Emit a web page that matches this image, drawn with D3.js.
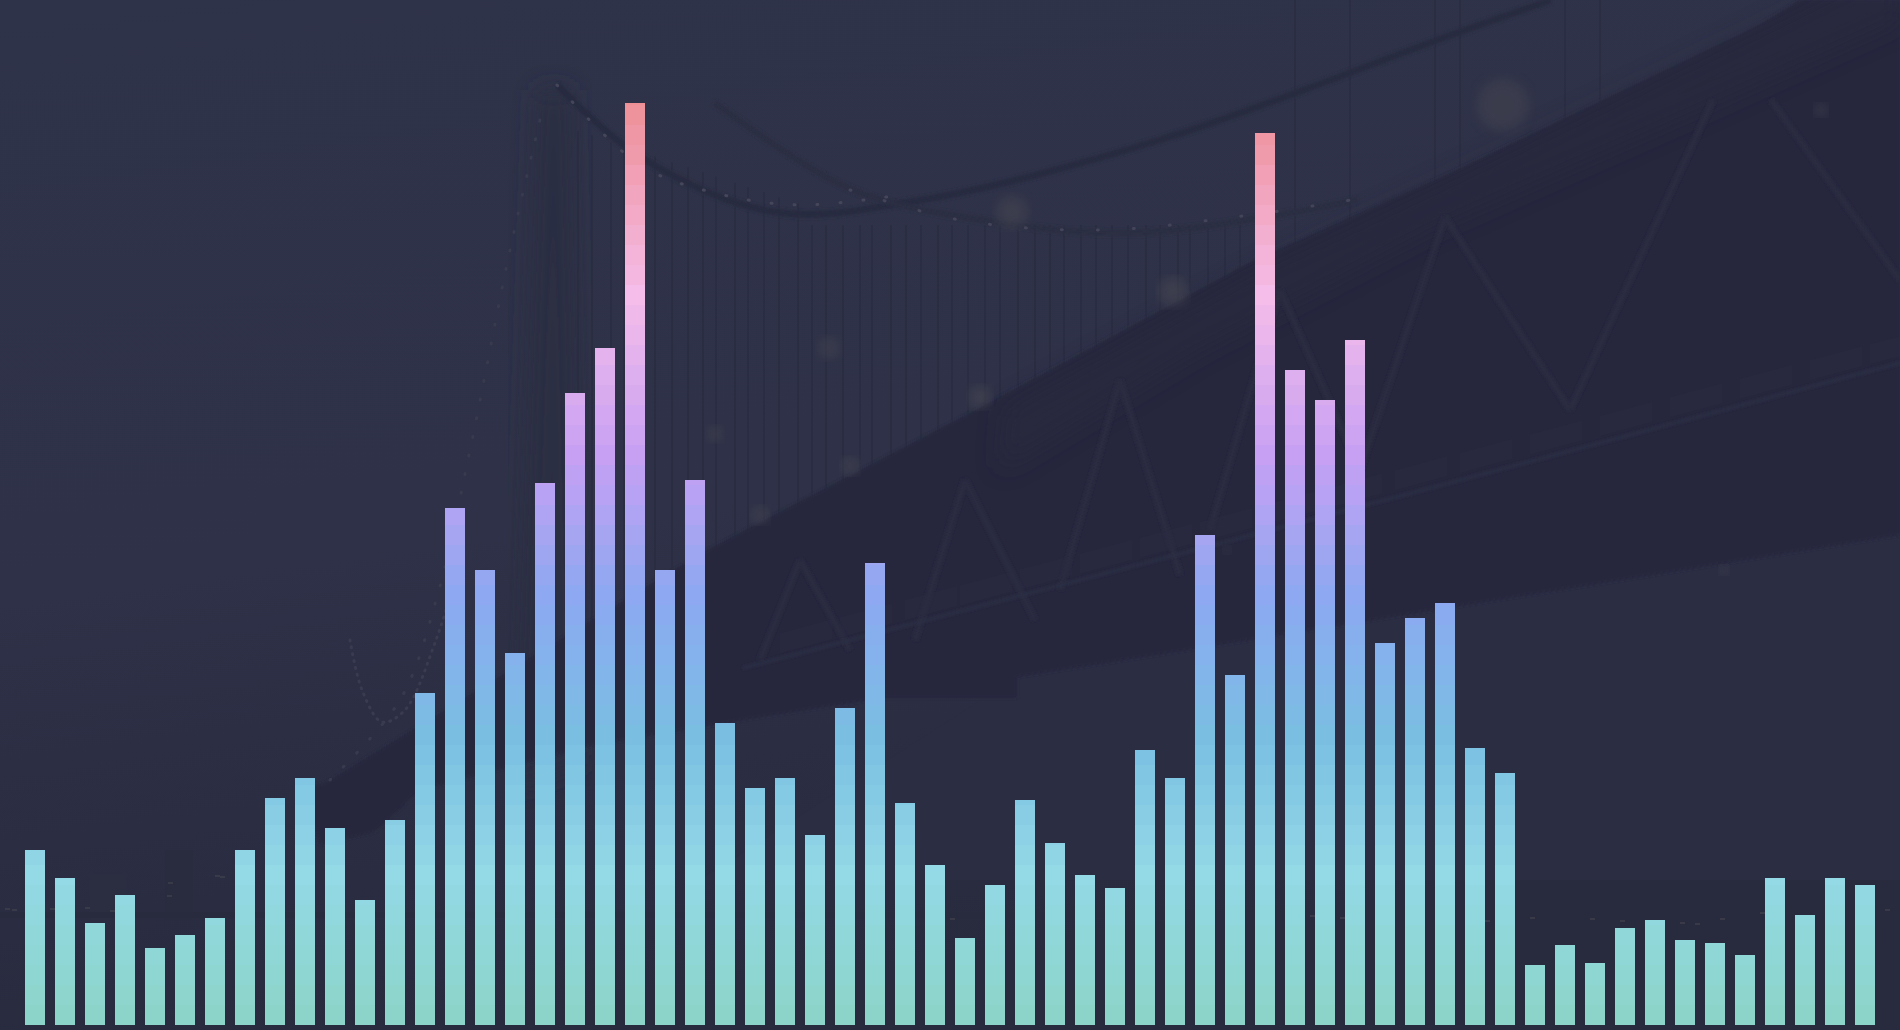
<!DOCTYPE html>
<html>
<head>
<meta charset="utf-8">
<title>Bars over bridge</title>
<script src="https://cdn.jsdelivr.net/npm/d3@7"></script>
<style>
  html, body { margin: 0; padding: 0; background: #2b2e44; overflow: hidden; }
  svg { display: block; }
</style>
</head>
<body>
<div id="chart"></div>
<script>
// bar heights
var values = [175, 147, 102, 130, 77, 90, 107, 175, 227, 247, 197, 125, 205, 332, 517, 455,
              372, 542, 632, 677, 922, 455, 545, 302, 237, 247, 190, 317, 462, 222, 160, 87,
              140, 225, 182, 150, 137, 275, 247, 490, 350, 892, 655, 625, 685, 382, 407, 422,
              277, 252, 60, 80, 62, 97, 105, 85, 82, 70, 147, 110, 147, 140];
var categories = values.map(function(d, i) { return i; });

// colour ramp, bottom to top
var rampValues = [0, 148, 288, 425, 570, 730, 922];
var rampColors = ["#8cd4c7", "#93d9e6", "#7abfe2", "#8ca9f2", "#c7a0f3", "#f5bde9", "#ee8f96"];

var width = 1900, height = 1030, baseline = 1025, topY = 103, bandStep = 20;

var svg = d3.select("#chart").append("svg")
    .attr("width", width)
    .attr("height", height);
var defs = svg.append("defs");

var x = d3.scaleBand().domain(categories).range([20, 1880]).paddingInner(1 / 3).paddingOuter(1 / 6);
var y = d3.scaleLinear().domain([0, 922]).range([baseline, topY]);
var color = d3.scaleLinear().domain(rampValues).range(rampColors).interpolate(d3.interpolateRgb);

// background
var bg = defs.append("linearGradient").attr("id", "bg")
    .attr("x1", 0).attr("y1", 0).attr("x2", 0.25).attr("y2", 1);
bg.append("stop").attr("offset", 0).attr("stop-color", "#2f3349");
bg.append("stop").attr("offset", 0.55).attr("stop-color", "#2e3147");
bg.append("stop").attr("offset", 1).attr("stop-color", "#282a3e");
defs.append("filter").attr("id", "soft").append("feGaussianBlur").attr("stdDeviation", 1.5);
defs.append("filter").attr("id", "haze").append("feGaussianBlur").attr("stdDeviation", 12);
defs.append("filter").attr("id", "glow").append("feGaussianBlur").attr("stdDeviation", 6);

svg.append("rect").attr("width", width).attr("height", height).attr("fill", "url(#bg)");

var back = svg.append("g").attr("class", "bridge");
var curve = d3.line().curve(d3.curveCatmullRom);
var straight = d3.line();

// water on the right side
back.append("path")
    .attr("d", straight([[1017, 677], [1900, 535], [1900, 880], [700, 880]]) + "Z")
    .attr("fill", "#2b2d43");

// main tower, mostly lost in the fog
back.append("path")
    .attr("d", straight([[538, 90], [570, 90], [585, 760], [515, 790]]) + "Z")
    .attr("fill", "#2a2d42").attr("filter", "url(#haze)");

// hangers between the cables and the deck
var hangers = [578, 592, 611, 624, 640, 655, 672, 688, 703, 716, 735, 748, 764, 779, 798, 812, 826,
               843, 860, 872, 891, 906, 921, 938, 952, 968, 985, 1000, 1018, 1035, 1050, 1064, 1081,
               1096, 1112, 1128, 1146, 1160, 1178, 1190, 1208, 1225, 1240, 1256];
back.append("g").selectAll("line").data(hangers).join("line")
    .attr("x1", function(d) { return d; })
    .attr("x2", function(d) { return d; })
    .attr("y1", function(d) { return d < 800 ? 130 + (d - 575) * 0.33 : 225; })
    .attr("y2", function(d) { return 690 - (d - 575) * 0.54; })
    .attr("stroke", "#282b3f").attr("stroke-width", 2).attr("opacity", 0.55);

// upper hangers on the right span
back.append("g").selectAll("line").data([1295, 1350, 1435, 1460, 1565, 1600]).join("line")
    .attr("x1", function(d) { return d; })
    .attr("x2", function(d) { return d; })
    .attr("y1", 0)
    .attr("y2", function(d) { return 360 - (d - 1295) * 0.6; })
    .attr("stroke", "#282b3f").attr("stroke-width", 1.5).attr("opacity", 0.7);

// big truss and deck
back.append("path")
    .attr("d", straight([[300, 790], [327, 782], [703, 552], [981, 407], [1248, 263], [1454, 171],
                         [1757, 26], [1800, 0], [1900, 0], [1900, 535], [1200, 648], [1017, 677],
                         [1017, 698], [883, 698], [743, 720], [590, 746], [420, 790], [375, 832],
                         [320, 845]]) + "Z")
    .attr("fill", "#25283d").attr("filter", "url(#soft)");

// lighter strip under the top chord
back.append("path")
    .attr("d", straight([[1005, 410], [1260, 270], [1460, 175], [1760, 30], [1900, -40], [1900, 20],
                         [1700, 110], [1440, 225], [1200, 350], [1000, 470]]) + "Z")
    .attr("fill", "#292b41").attr("opacity", 0.5).attr("filter", "url(#haze)");

// truss diagonals
var diagonals = [[1445, 217, 1570, 410], [1713, 100, 1570, 410], [1771, 100, 1900, 280], [1445, 217, 1360, 470],
                 [1120, 380, 1180, 575], [1120, 380, 1060, 590], [965, 480, 1035, 620], [965, 480, 915, 640],
                 [1280, 290, 1360, 470], [1280, 290, 1210, 530], [800, 560, 850, 650], [800, 560, 760, 660]];
back.append("g").attr("filter", "url(#soft)").selectAll("line").data(diagonals).join("line")
    .attr("x1", function(d) { return d[0]; })
    .attr("y1", function(d) { return d[1]; })
    .attr("x2", function(d) { return d[2]; })
    .attr("y2", function(d) { return d[3]; })
    .attr("stroke", "#292b41").attr("stroke-width", 6);

// panel boxes sitting on the railing
var panels = [780, 840, 905, 960, 1020, 1080, 1140, 1200, 1265, 1330, 1395, 1460, 1530, 1600, 1670, 1740, 1810, 1870];
back.append("g").selectAll("polygon").data(panels).join("polygon")
    .attr("points", function(d) {
        var top = 668 - (d - 743) * 0.265;
        return [[d, top - 5], [d + 52, top - 19], [d + 52, top - 39], [d, top - 25]].join(" ");
    })
    .attr("fill", "#2a2c42").attr("opacity", 0.5);

// railing along the deck
back.append("path")
    .attr("d", straight([[743, 668], [1195, 550], [1423, 490], [1900, 363]]))
    .attr("fill", "none").attr("stroke", "#2c2e44").attr("stroke-width", 3).attr("filter", "url(#soft)");

// main cables
back.append("path")
    .attr("d", curve([[557, 85], [642, 158], [775, 212], [921, 200], [1163, 139], [1454, 34], [1551, 0]]))
    .attr("fill", "none").attr("stroke", "#282b40").attr("stroke-width", 7).attr("filter", "url(#soft)");
back.append("path")
    .attr("d", curve([[715, 103], [848, 188], [969, 218], [1127, 233], [1260, 218], [1357, 200]]))
    .attr("fill", "none").attr("stroke", "#2a2d42").attr("stroke-width", 6).attr("filter", "url(#soft)");

// dotted side span on the left
back.append("path")
    .attr("d", curve([[350, 640], [362, 690], [382, 722], [405, 710], [436, 640], [452, 590]]))
    .attr("fill", "none").attr("stroke", "#3a3b50").attr("stroke-width", 3)
    .attr("stroke-dasharray", "1 6").attr("stroke-linecap", "round");
back.append("path")
    .attr("d", curve([[330, 780], [400, 700], [437, 597], [470, 450], [510, 250], [540, 120]]))
    .attr("fill", "none").attr("stroke", "#383a4e").attr("stroke-width", 3)
    .attr("stroke-dasharray", "1 18").attr("stroke-linecap", "round");
back.append("path")
    .attr("d", curve([[557, 85], [640, 165], [715, 193], [800, 205], [900, 195]]))
    .attr("fill", "none").attr("stroke", "#45465a").attr("stroke-width", 3)
    .attr("stroke-dasharray", "1 22").attr("stroke-linecap", "round");
back.append("path")
    .attr("d", curve([[850, 190], [960, 220], [1100, 230], [1250, 215], [1350, 200]]))
    .attr("fill", "none").attr("stroke", "#434459").attr("stroke-width", 3)
    .attr("stroke-dasharray", "1 35").attr("stroke-linecap", "round");

// bokeh lights
var lights = [[1503, 105, 26, 0.45], [1012, 212, 16, 0.5], [1173, 292, 15, 0.55], [829, 348, 11, 0.45],
              [980, 397, 11, 0.6], [715, 434, 8, 0.5], [850, 466, 9, 0.55], [760, 515, 9, 0.55],
              [1821, 110, 6, 0.7], [1724, 570, 5, 0.6], [1227, 550, 4, 0.6]];
back.append("g").selectAll("circle").data(lights).join("circle")
    .attr("cx", function(d) { return d[0]; })
    .attr("cy", function(d) { return d[1]; })
    .attr("r", function(d) { return d[2]; })
    .attr("opacity", function(d) { return d[3]; })
    .attr("fill", "#4a4852").attr("filter", "url(#glow)");

// far shore: dark buildings and a few lights
back.append("rect").attr("x", 165).attr("y", 850).attr("width", 28).attr("height", 70).attr("fill", "#292b3f");
back.append("rect").attr("x", 90).attr("y", 875).attr("width", 36).attr("height", 45).attr("fill", "#2b2d41");
back.append("rect").attr("x", 0).attr("y", 912).attr("width", width).attr("height", 6).attr("fill", "#282a3e");
var shore = [[5, 908], [12, 909], [85, 907], [50, 908], [110, 910], [168, 882], [167, 895], [215, 875], [220, 876],
             [1260, 918], [1310, 915], [1340, 917], [1485, 920], [1530, 917], [1590, 918], [1620, 920], [1650, 921],
             [1680, 922], [1695, 923], [1720, 918], [1760, 912], [1885, 909], [950, 918], [985, 915], [1020, 917]];
back.append("g").selectAll("rect").data(shore).join("rect")
    .attr("x", function(d) { return d[0]; })
    .attr("y", function(d) { return d[1]; })
    .attr("width", 5).attr("height", 2)
    .attr("fill", "#45454f").attr("opacity", 0.6);

// bar gradient: flat steps, same colour at the same height on every bar
var grad = defs.append("linearGradient").attr("id", "barFill")
    .attr("gradientUnits", "userSpaceOnUse")
    .attr("x1", 0).attr("x2", 0)
    .attr("y1", y(0)).attr("y2", y(922));
var bands = d3.range(0, 922, bandStep);
bands.forEach(function(b) {
    var c = color(Math.min(b + bandStep / 2, 922));
    grad.append("stop").attr("offset", b / 922).attr("stop-color", c);
    grad.append("stop").attr("offset", Math.min(b + bandStep, 922) / 922).attr("stop-color", c);
});

svg.append("g").attr("class", "bars")
    .selectAll("rect")
    .data(values)
    .join("rect")
    .attr("x", function(d, i) { return x(i); })
    .attr("y", function(d) { return y(d); })
    .attr("width", x.bandwidth())
    .attr("height", function(d) { return y(0) - y(d); })
    .attr("fill", "url(#barFill)");
</script>
</body>
</html>
